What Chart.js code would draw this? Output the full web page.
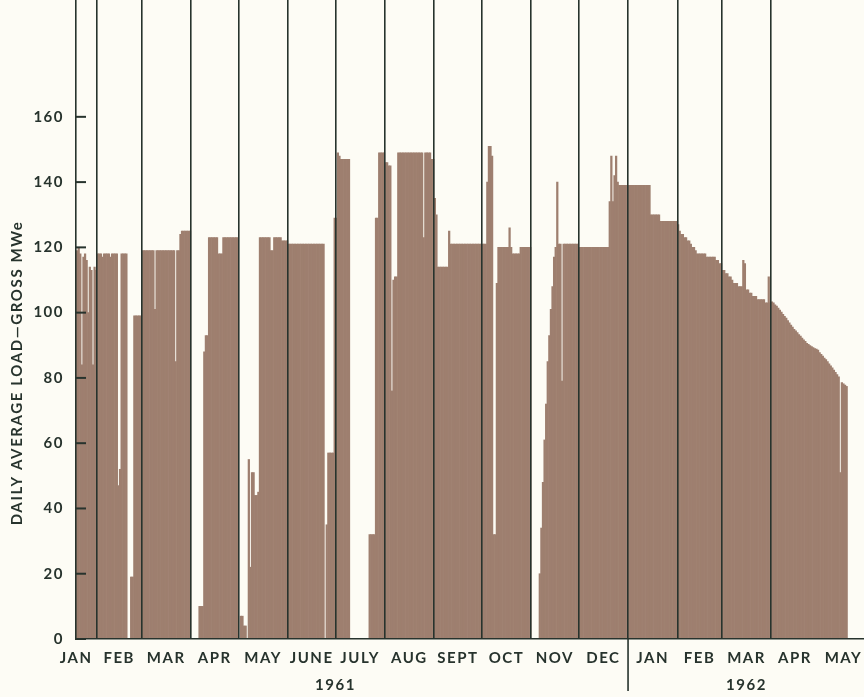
<!DOCTYPE html>
<html>
<head>
<meta charset="utf-8">
<script src="https://cdn.jsdelivr.net/npm/chart.js@4.4.1/dist/chart.umd.min.js"></script>
<style>
  html, body { margin: 0; padding: 0; background: #fdfcf5; }
  canvas { display: block; }
</style>
</head>
<body>
<canvas id="c" width="864" height="697"></canvas>
<script>
// Daily average gross load (MWe), one value per day, 19 Jan 1961 - 18 May 1962.
const jan1961 = [119,120,118,84,117,118,116,100,114,113,84,114,113];
const feb1961 = [118,118,118,117,118,118,118,118,117,118,118,118,118,47,52,118,118,118,118,0,0,19,19,99,99,99,99,99];
const mar1961 = [119,119,119,119,119,119,119,119,101,119,119,119,119,119,119,119,119,119,119,119,119,85,119,119,124,125,125,125,125,125,125];
const apr1961 = [0,0,0,0,0,10,10,10,88,93,93,123,123,123,123,123,123,118,118,118,123,123,123,123,123,123,123,123,123,123];
const may1961 = [0,7,7,4,4,0,55,22,51,51,44,44,45,123,123,123,123,123,123,123,119,119,123,123,123,123,123,122,122,122,122];
const jun1961 = [121,121,121,121,121,121,121,121,121,121,121,121,121,121,121,121,121,121,121,121,121,121,121,0,35,57,57,57,57,129];
const jul1961 = [129,149,148,147,147,147,147,147,147,0,0,0,0,0,0,0,0,0,0,0,0,32,32,32,32,129,129,149,149,149,149];
const aug1961 = [146,146,145,145,76,110,111,111,149,149,149,149,149,149,149,149,149,149,149,149,149,149,149,149,123,149,149,149,149,147,147];
const sep1961 = [135,130,114,114,114,114,114,114,114,125,121,121,121,121,121,121,121,121,121,121,121,121,121,121,121,121,121,121,121,121];
const oct1961 = [121,121,121,140,151,151,148,32,32,109,120,120,120,120,120,120,120,126,120,118,118,118,118,118,120,120,120,120,120,120,120];
const nov1961 = [0,0,0,0,0,20,34,48,61,72,85,93,101,108,117,120,140,121,121,79,121,121,121,121,121,121,121,121,121,121];
const dec1961 = [120,120,120,120,120,120,120,120,120,120,120,120,120,120,120,120,120,120,120,134,148,134,142,148,140,139,139,139,139,139,139];
const jan1962 = [139,139,139,139,139,139,139,139,139,139,139,139,139,139,130,130,130,130,130,130,128,128,128,128,128,128,128,128,128,128,128];
const feb1962 = [127,125,124,124,123,123,122,122,121,120,120,119,118,118,118,118,118,118,117,117,117,117,117,117,116,116,115,115];
const mar1962 = [113,113,112,112,111,111,110,109,109,109,108,108,108,116,115,107,107,106,106,105,105,105,104,104,104,104,104,103,103,111,103];
const apr1962 = [103.3,103,102.4,102,101.4,100.8,100.2,99.5,98.9,98.3,97.6,96.9,96.2,95.6,94.9,94.4,93.9,93.3,92.8,92.2,91.7,91.2,90.6,90.3,89.9,89.6,89.3,89,88.8,88.5];
const may1962 = [87.8,87.2,86.7,86.1,85.6,85,84.3,83.7,83.1,82.4,81.7,81,80.3,51,78.6,78.2,77.8,77.4];

// Calendar: day numbers counted from 1 Jan 1961
const firstDay = 18;                       // 19 Jan 1961
const axisStart = 17.8;
const axisEnd = 513.4;
const monthNames = ['JAN','FEB','MAR','APR','MAY','JUNE','JULY','AUG','SEPT','OCT','NOV','DEC','JAN','FEB','MAR','APR','MAY'];
const monthStarts = [0,31,59,90,120,151,181,212,243,273,304,334,365,396,424,455,485,516];
const yearLabels = ['1961','1962'];
const yearDays = [181, 439.5];
const yTicks = [0,20,40,60,80,100,120,140,160];

const ink = '#27332d';
const barColor = '#9e7f6f';
const paper = '#fdfcf5';

const daily = [].concat(jan1961, feb1961, mar1961, apr1961, may1961, jun1961, jul1961,
  aug1961, sep1961, oct1961, nov1961, dec1961, jan1962, feb1962, mar1962, apr1962, may1962);
const points = daily.map((v, i) => ({ x: firstDay + i + 0.5, y: v }));

const labelDays = monthNames.map((_, i) => i === 0 ? axisStart + 0.1 : (monthStarts[i] + monthStarts[i + 1]) / 2);

const canvas = document.getElementById('c');
const ctx0 = canvas.getContext('2d');
ctx0.letterSpacing = '1.5px';

// keep the plot area fixed: no extra room reserved for edge labels
const noPad = s => { s.paddingLeft = 0; s.paddingRight = 0; s.paddingTop = 0; s.paddingBottom = 0; };

const decor = {
  id: 'decor',
  beforeDraw(chart) {
    const c = chart.ctx;
    c.save();
    c.fillStyle = paper;
    c.fillRect(0, 0, chart.width, chart.height);
    c.restore();
    c.letterSpacing = '1.5px';
  },
  afterDraw(chart) {
    const c = chart.ctx;
    const { left, bottom } = chart.chartArea;
    const y = chart.scales.y, x = chart.scales.x;
    c.save();
    c.strokeStyle = ink;
    // inward tick marks on the load axis
    c.lineWidth = 2;
    yTicks.forEach(v => {
      const py = y.getPixelForValue(v);
      c.beginPath(); c.moveTo(left, py); c.lineTo(left + 10, py); c.stroke();
    });
    // divider between the two years
    const px = x.getPixelForValue(monthStarts[12]);
    c.lineWidth = 1.6;
    c.beginPath(); c.moveTo(px, bottom); c.lineTo(px, bottom + 52); c.stroke();
    // axis title
    c.translate(17.5, 373);
    c.rotate(-Math.PI / 2);
    c.fillStyle = ink;
    c.font = 'bold 15px Lato';
    c.textAlign = 'center';
    c.textBaseline = 'middle';
    c.letterSpacing = '1.6px';
    c.fillText('DAILY AVERAGE LOAD\u2014GROSS MWe', 0, 0);
    c.restore();
  }
};

Chart.defaults.font.family = 'Lato';
Chart.defaults.font.size = 15;
Chart.defaults.font.weight = 'bold';
Chart.defaults.color = ink;

new Chart(canvas, {
  type: 'bar',
  data: {
    datasets: [{
      data: points,
      backgroundColor: barColor,
      borderWidth: 0,
      barPercentage: 1,
      categoryPercentage: 1,
      xAxisID: 'x',
      yAxisID: 'y'
    }]
  },
  options: {
    responsive: false,
    devicePixelRatio: 1,
    animation: false,
    layout: { padding: 0 },
    plugins: { legend: { display: false }, tooltip: { enabled: false } },
    scales: {
      x: {
        type: 'linear', position: 'bottom', min: axisStart, max: axisEnd, weight: 0, offset: false,
        afterBuildTicks: s => { s.ticks = labelDays.map(v => ({ value: v })); },
        afterFit: s => { s.height = 30; noPad(s); },
        ticks: { autoSkip: false, maxRotation: 0, padding: 10, callback: (v, i) => monthNames[i] },
        grid: { drawOnChartArea: false, drawTicks: false, offset: false },
        border: { display: true, color: ink, width: 1.6, z: 2 }
      },
      xy: {
        type: 'linear', position: 'bottom', min: axisStart, max: axisEnd, weight: 1, offset: false,
        afterBuildTicks: s => { s.ticks = yearDays.map(v => ({ value: v })); },
        afterFit: s => { s.height = 28; noPad(s); },
        ticks: { autoSkip: false, maxRotation: 0, padding: 7, callback: (v, i) => yearLabels[i] },
        grid: { drawOnChartArea: false, drawTicks: false, offset: false },
        border: { display: false }
      },
      xg: {
        type: 'linear', position: 'top', min: axisStart, max: axisEnd, offset: false,
        afterBuildTicks: s => { s.ticks = monthStarts.slice(1, 16).map(v => ({ value: v })); },
        afterFit: s => { s.height = 0; noPad(s); },
        ticks: { display: false },
        grid: { drawOnChartArea: true, drawTicks: false, offset: false, color: ink, lineWidth: 1.6, z: 1 },
        border: { display: false }
      },
      y: {
        type: 'linear', position: 'left', min: 0, max: 195.8,
        afterBuildTicks: s => { s.ticks = yTicks.map(v => ({ value: v })); },
        afterFit: s => { s.width = 76; noPad(s); },
        ticks: { padding: 12 },
        grid: { drawOnChartArea: false, drawTicks: false },
        border: { display: true, color: ink, width: 1.6, z: 2 }
      }
    }
  },
  plugins: [decor]
});
</script>
</body>
</html>
